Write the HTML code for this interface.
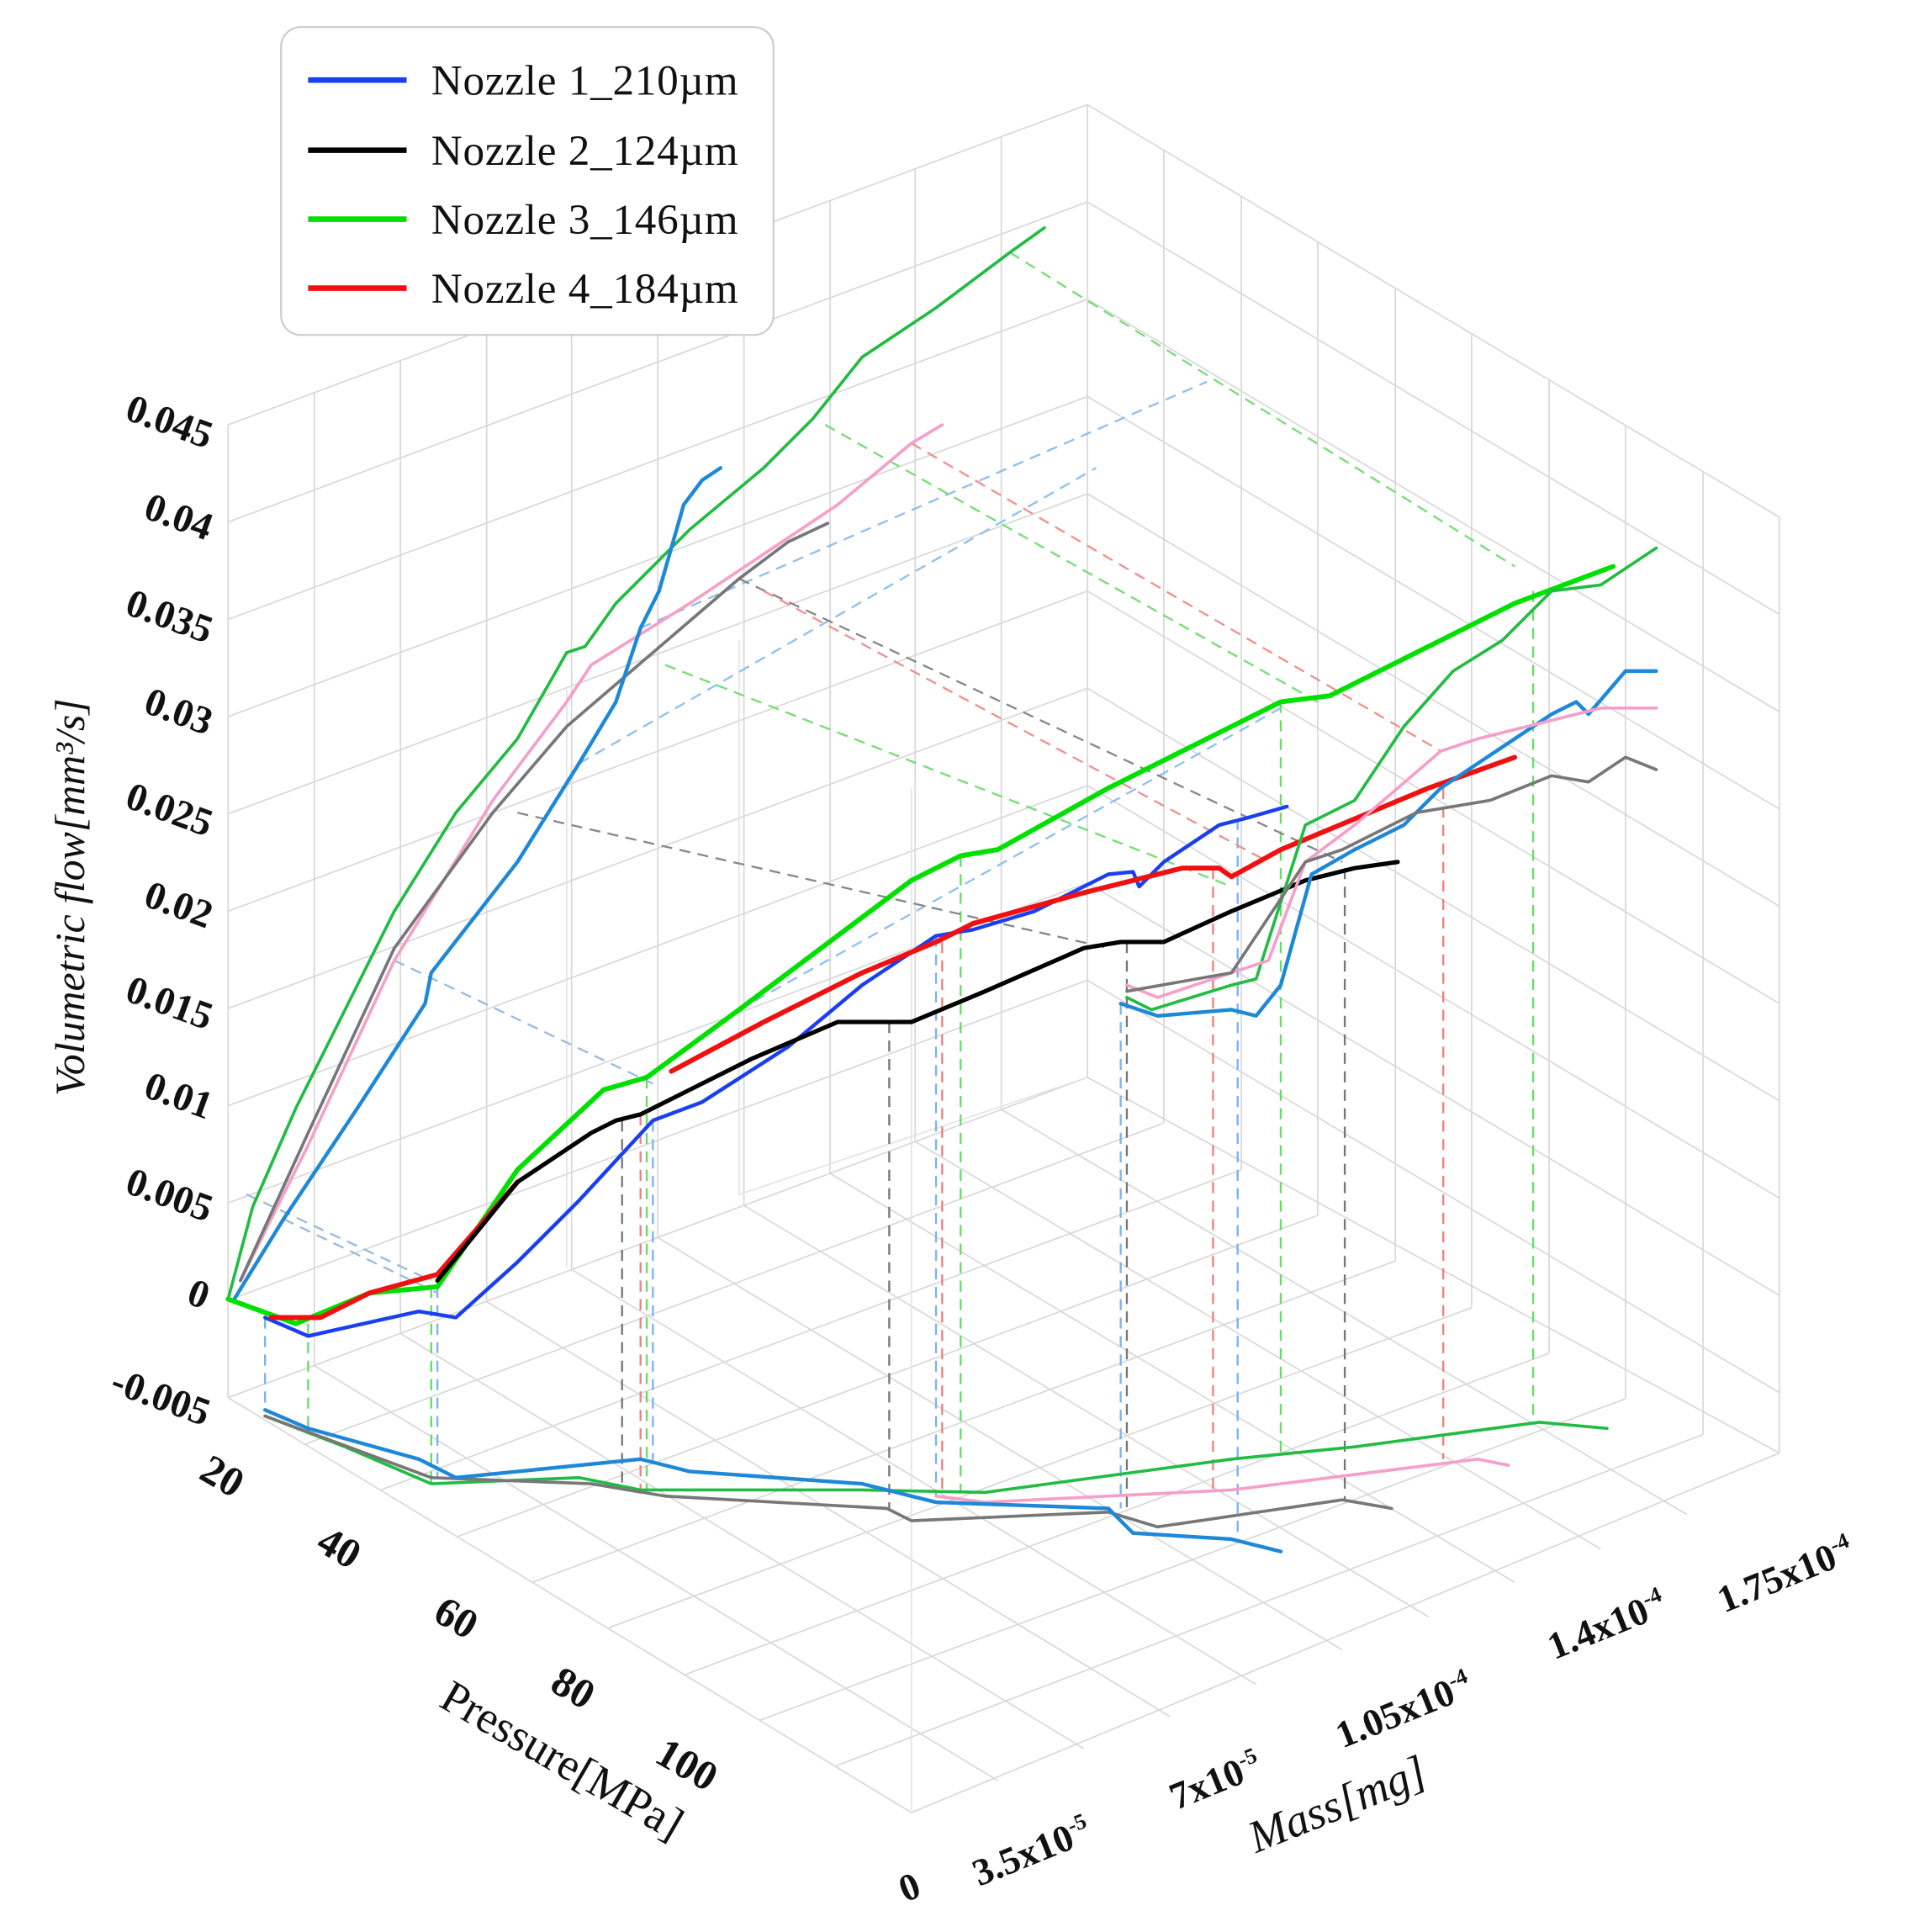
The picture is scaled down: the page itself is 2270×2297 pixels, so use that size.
<!DOCTYPE html>
<html><head><meta charset="utf-8"><style>
html,body{margin:0;padding:0;background:#fff}
svg{display:block}
text{font-family:"Liberation Serif",serif;fill:#111}
</style></head><body>
<svg width="2270" height="2297" viewBox="0 0 1550 1569" xmlns="http://www.w3.org/2000/svg">
<g stroke="#d9d9d9" stroke-width="1.2" fill="none">
<path d="M185,345 L883,85 M185,424 L883,164 M185,503 L883,243 M185,582 L883,322 M185,661 L883,401 M185,740 L883,480 M185,819 L883,559 M185,898 L883,638 M185,977 L883,717 M185,1056 L883,796 M185,1135 L883,875"/>
<path d="M883,85 L1445,420 M883,164 L1445,499 M883,243 L1445,578 M883,322 L1445,657 M883,401 L1445,736 M883,480 L1445,815 M883,559 L1445,894 M883,638 L1445,973 M883,717 L1445,1052 M883,796 L1445,1131 M883,875 L1445,1180"/>
<path d="M185,345 V1135 M255,319 V1109 M325,293 V1083 M395,267 V1057 M464,241 V1031 M534,215 V1005 M604,189 V979 M674,163 V953 M743,137 V927 M813,111 V901 M883,85 V875"/>
<path d="M945,122 V912 M1008,160 V950 M1070,197 V987 M1133,234 V1024 M1195,272 V1062 M1258,309 V1099 M1320,346 V1136 M1383,383 V1165 M1445,420 V1180"/>
<path d="M185,1135 L740,1472 L1445,1180 M255,1109 L810,1446 M325,1083 L880,1420 M395,1057 L950,1394 M464,1031 L1020,1368 M534,1005 L1090,1340 M604,979 L1160,1313 M674,953 L1230,1285 M743,927 L1300,1258 M813,901 L1370,1230"/>
<path d="M247,1173 L945,912 M309,1210 L1008,950 M371,1248 L1070,987 M432,1285 L1133,1024 M494,1322 L1195,1062 M556,1360 L1258,1099 M617,1397 L1320,1136 M679,1434 L1383,1165"/>
<path d="M600,520 V970 M600,970 L883,875 M460,560 V1030 M740,640 V1470" stroke="#e4e4e4"/>
</g>
<g fill="none" stroke-width="1.6" stroke-dasharray="9,6">
<path d="M215,1070 V1145 M355,1045 V1200 M530,910 V1190 M760,760 V1215 M910,815 V1225 M1005,665 V1250" stroke="#7ab4f0"/>
<path d="M250,1075 V1165 M350,1045 V1205 M525,875 V1210 M780,695 V1212 M1040,570 V1185 M1245,480 V1155" stroke="#66dd66"/>
<path d="M505,910 V1205 M722,830 V1225 M915,765 V1228 M1092,705 V1218" stroke="#777"/>
<path d="M520,905 V1210 M765,765 V1215 M985,705 V1210 M1172,640 V1185" stroke="#f08080"/>
<path d="M470,620 L890,380 M520,510 L980,310 M600,820 L1040,575" stroke="#8fc0f0"/>
<path d="M820,205 L1230,460 M670,345 L1070,570 M540,540 L1000,720" stroke="#77dd77"/>
<path d="M600,470 L1090,700 M420,660 L900,770" stroke="#888"/>
<path d="M740,360 L1170,610 M620,480 L1030,700" stroke="#f09090"/>
<path d="M320,780 L530,880 M200,970 L350,1040 M230,990 L355,1050" stroke="#99bbdd"/>
</g>
<g fill="none" stroke-linejoin="round" stroke-linecap="round">
<polyline stroke="#22bb44" stroke-width="2.5" points="185,1055 205,980 240,900 280,820 320,740 370,660 420,600 460,530 475,525 500,490 560,430 620,380 660,340 700,290 760,250 820,205 848,185"/>
<polyline stroke="#f4a0c8" stroke-width="2.5" points="195,1040 250,930 320,780 400,650 460,570 480,540 560,490 620,450 680,410 740,360 765,345"/>
<polyline stroke="#777" stroke-width="2.5" points="195,1040 250,920 320,770 400,660 460,590 530,530 600,470 640,440 672,425"/>
<polyline stroke="#1e88d8" stroke-width="3" points="190,1055 230,990 290,900 345,815 350,790 420,700 470,620 500,570 520,510 535,480 555,410 570,390 585,380"/>
<polyline stroke="#00e000" stroke-width="4" points="185,1055 240,1075 300,1050 355,1045 420,950 490,885 525,875 600,820 680,760 740,715 780,695 810,690 900,640 960,610 1040,570 1080,565 1150,530 1230,490 1310,460"/>
<polyline stroke="#1a3ff0" stroke-width="3" points="215,1070 250,1085 340,1065 370,1070 420,1025 470,975 530,910 570,895 640,850 700,800 760,760 790,755 840,740 900,710 920,708 925,720 945,700 990,670 1010,665 1045,655"/>
<polyline stroke="#f01010" stroke-width="4" points="220,1070 260,1070 300,1050 355,1035 420,960"/>
<polyline stroke="#f01010" stroke-width="4" points="545,870 620,830 700,790 760,765 790,750 880,725 960,705 990,705 1000,712 1040,690 1100,665 1160,640 1230,615"/>
<polyline stroke="#000" stroke-width="3.5" points="355,1040 420,960 480,920 500,910 520,905 560,885 610,860 680,830 740,830 800,805 880,770 910,765 945,765 1000,740 1060,715 1100,705 1135,700"/>
<polyline stroke="#1e88d8" stroke-width="3" points="910,815 940,825 1000,820 1020,825 1040,800 1065,710 1100,690 1140,670 1170,640 1200,620 1260,580 1280,570 1290,580 1320,545 1345,545"/>
<polyline stroke="#22bb44" stroke-width="2.5" points="915,810 935,820 1000,800 1020,795 1060,670 1100,650 1140,590 1180,545 1220,520 1260,480 1300,475 1345,445"/>
<polyline stroke="#f4a0c8" stroke-width="2.5" points="915,800 940,810 1000,790 1030,780 1060,700 1100,670 1170,610 1200,600 1260,585 1300,575 1345,575"/>
<polyline stroke="#777" stroke-width="2.5" points="915,805 1000,790 1060,700 1090,690 1150,660 1210,650 1260,630 1290,635 1320,615 1345,625"/>
<polyline stroke="#22bb44" stroke-width="2.5" points="215,1150 280,1175 350,1205 470,1200 520,1210 700,1210 800,1212 1000,1185 1100,1175 1250,1155 1305,1160"/>
<polyline stroke="#777" stroke-width="2.5" points="215,1150 350,1200 480,1205 540,1215 720,1225 740,1235 900,1228 940,1240 1090,1218 1130,1225"/>
<polyline stroke="#f4a0c8" stroke-width="2.5" points="760,1215 800,1220 1000,1210 1200,1185 1225,1190"/>
<polyline stroke="#1e88d8" stroke-width="3" points="215,1145 250,1160 340,1185 370,1200 520,1185 560,1195 700,1205 760,1220 900,1225 920,1245 1000,1250 1040,1260"/>
</g>
<rect x="228" y="22" width="400" height="250" rx="16" fill="#fff" stroke="#ccc" stroke-width="1.5"/>
<g stroke-width="4.5"><line x1="250" y1="65" x2="330" y2="65" stroke="#1a3ff0"/><line x1="250" y1="122" x2="330" y2="122" stroke="#000"/><line x1="250" y1="178" x2="330" y2="178" stroke="#00e000"/><line x1="250" y1="234" x2="330" y2="234" stroke="#f01010"/></g>
<g font-size="35" letter-spacing="0.5"><text x="350" y="77">Nozzle 1_210µm</text><text x="350" y="134">Nozzle 2_124µm</text><text x="350" y="190">Nozzle 3_146µm</text><text x="350" y="246">Nozzle 4_184µm</text></g>
<g font-size="32" font-weight="bold">
<text transform="translate(100,340) rotate(20)">0.045</text>
<text transform="translate(115,420) rotate(20)">0.04</text>
<text transform="translate(100,498) rotate(20)">0.035</text>
<text transform="translate(115,578) rotate(20)">0.03</text>
<text transform="translate(100,655) rotate(20)">0.025</text>
<text transform="translate(115,735) rotate(20)">0.02</text>
<text transform="translate(100,812) rotate(20)">0.015</text>
<text transform="translate(115,890) rotate(20)">0.01</text>
<text transform="translate(100,968) rotate(20)">0.005</text>
<text transform="translate(150,1058) rotate(20)">0</text>
<text transform="translate(88,1130) rotate(20)">-0.005</text>
</g>
<text transform="translate(68,890) rotate(-90)" font-size="34" font-style="italic">Volumetric flow[mm³/s]</text>
<g font-size="34" font-weight="bold">
<text transform="translate(160,1200) rotate(30)">20</text>
<text transform="translate(255,1258) rotate(30)">40</text>
<text transform="translate(350,1315) rotate(30)">60</text>
<text transform="translate(445,1372) rotate(30)">80</text>
<text transform="translate(530,1430) rotate(30)">100</text>
</g>
<text transform="translate(355,1385) rotate(30)" font-size="37">Pressure[MPa]</text>
<g font-size="31" font-weight="bold">
<text transform="translate(735,1545) rotate(-22)">0</text>
<text transform="translate(795,1532) rotate(-22)">3.5x10<tspan font-size="18" dy="-12">-5</tspan></text>
<text transform="translate(955,1470) rotate(-22)">7x10<tspan font-size="18" dy="-12">-5</tspan></text>
<text transform="translate(1090,1420) rotate(-22)">1.05x10<tspan font-size="18" dy="-12">-4</tspan></text>
<text transform="translate(1262,1348) rotate(-22)">1.4x10<tspan font-size="18" dy="-12">-4</tspan></text>
<text transform="translate(1400,1310) rotate(-22)">1.75x10<tspan font-size="18" dy="-12">-4</tspan></text>
</g>
<text transform="translate(1020,1505) rotate(-22)" font-size="37" font-style="italic">Mass[mg]</text>
</svg>
</body></html>
